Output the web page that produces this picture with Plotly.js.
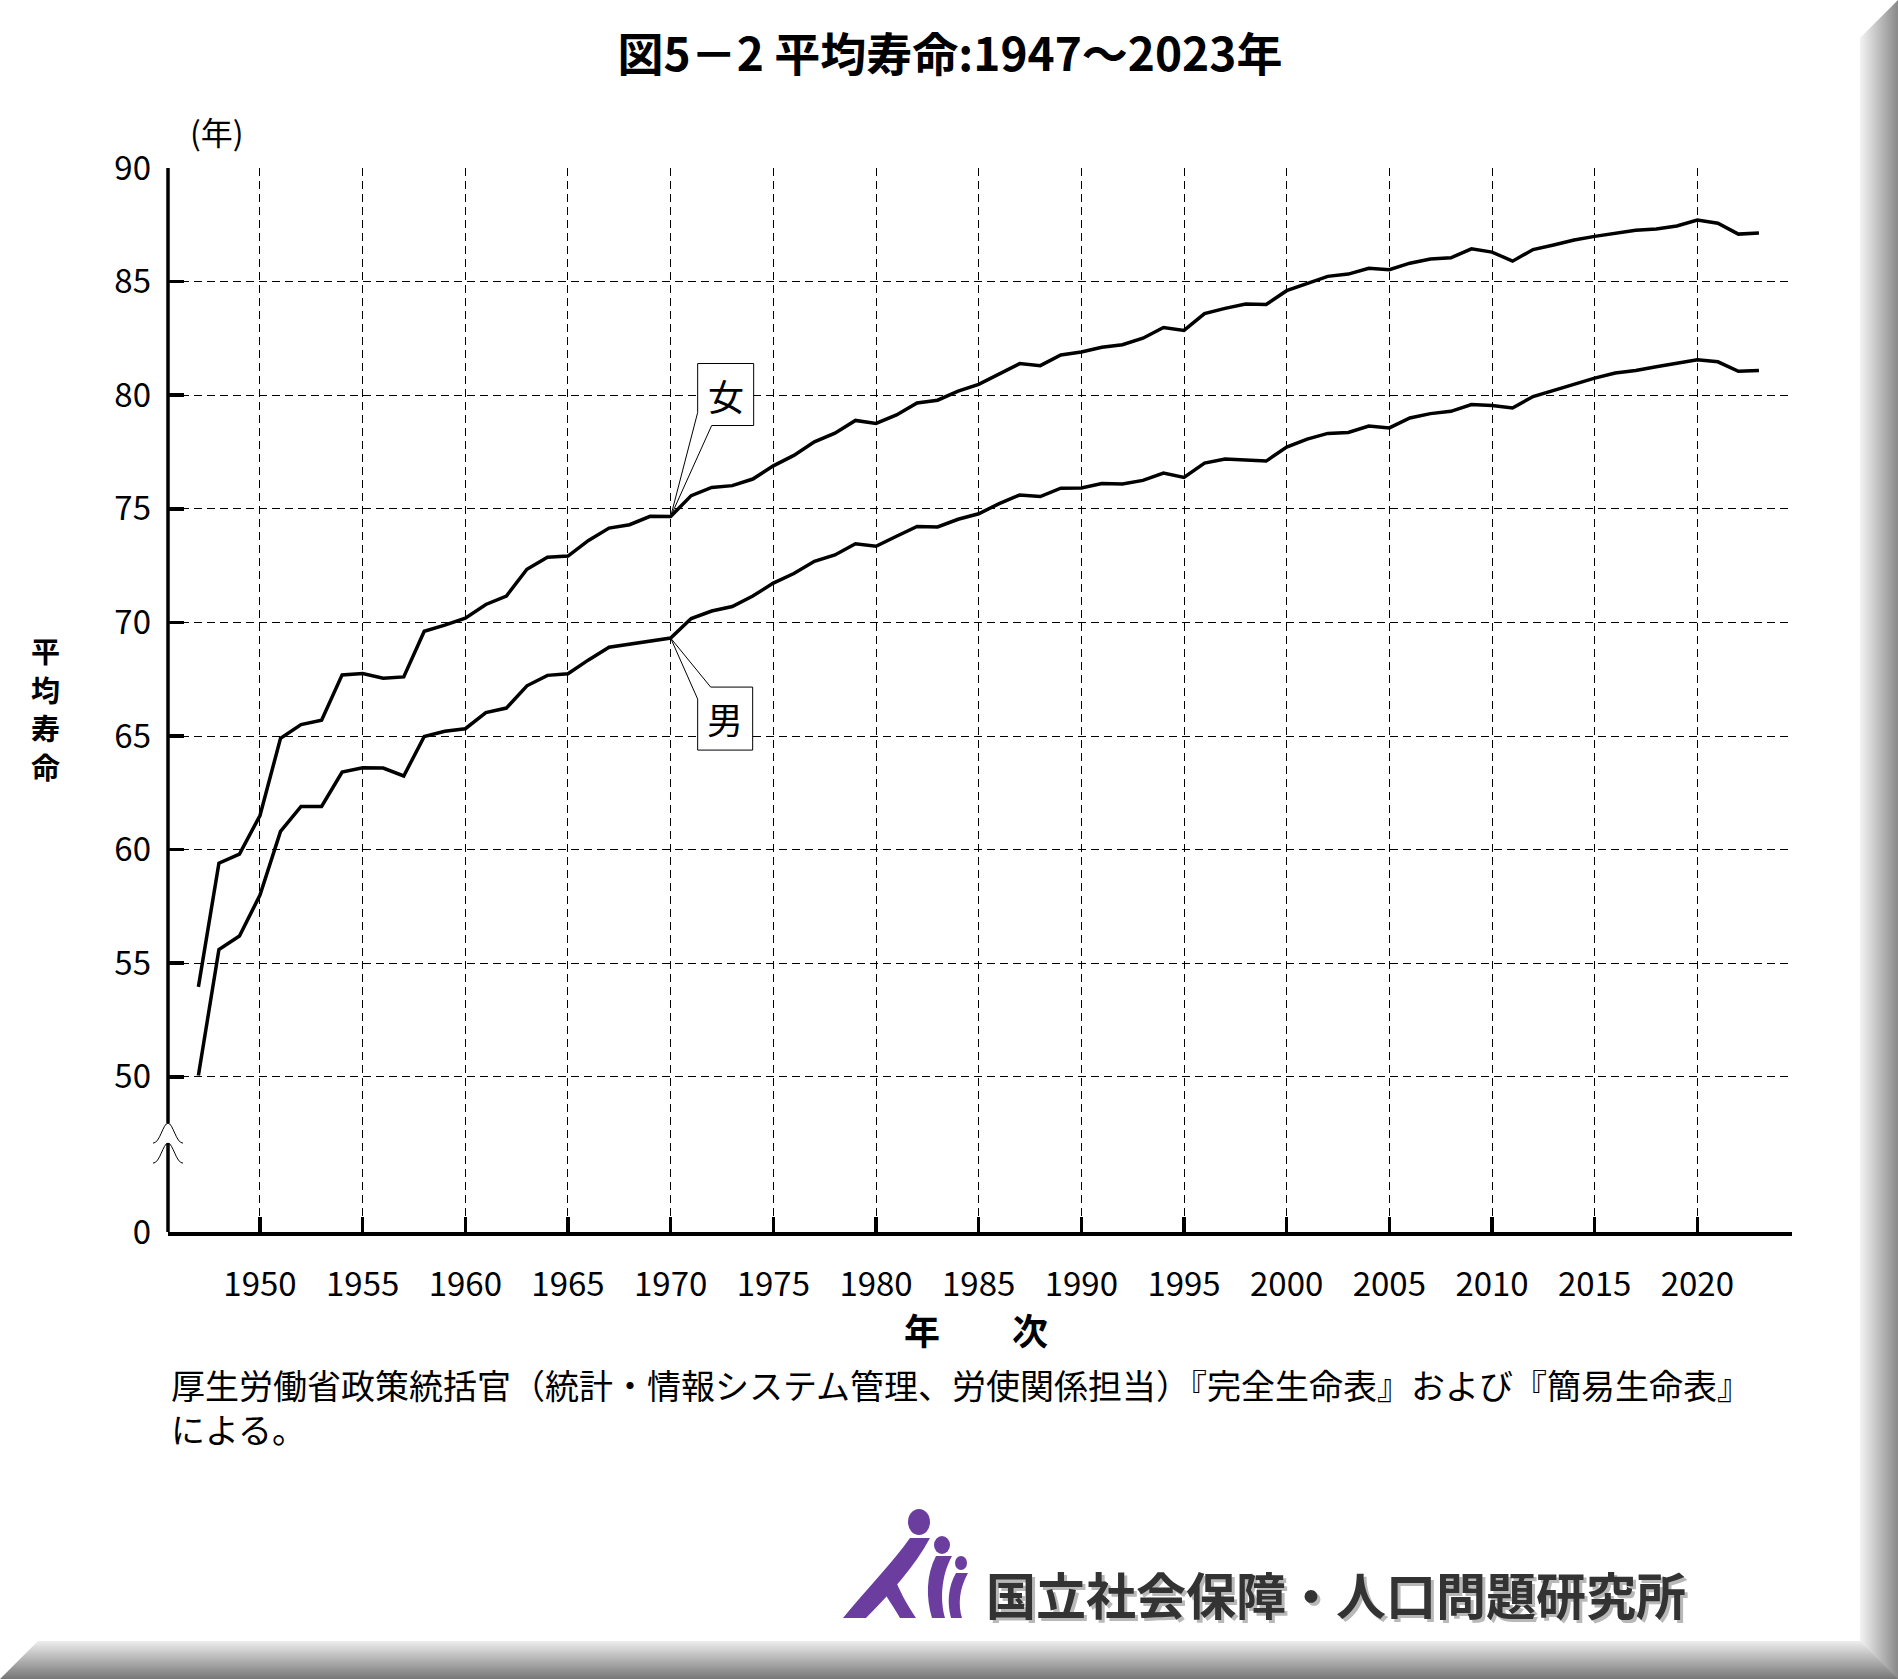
<!DOCTYPE html>
<html lang="ja">
<head>
<meta charset="utf-8">
<title>図5－2 平均寿命:1947～2023年</title>
<script src="https://cdn.plot.ly/plotly-3.0.1.min.js"></script>
<style>
  html, body { margin: 0; padding: 0; background: #fff; }
  body { width: 1898px; height: 1679px; position: relative; overflow: hidden; }
  #chart { position: absolute; left: 0; top: 0; width: 1898px; height: 1679px; z-index: 2; }
  .bevel {
    position: absolute; box-sizing: border-box; border-style: solid; border-width: 1px;
    border-top-color: transparent; border-left-color: transparent; z-index: 1;
  }
</style>
</head>
<body>
<div id="chart"></div>
<script>
/******************** DATA ********************/
const years = [
  1947, 1948, 1949, 1950, 1951, 1952, 1953, 1954, 1955, 1956,
  1957, 1958, 1959, 1960, 1961, 1962, 1963, 1964, 1965, 1966,
  1967, 1968, 1969, 1970, 1971, 1972, 1973, 1974, 1975, 1976,
  1977, 1978, 1979, 1980, 1981, 1982, 1983, 1984, 1985, 1986,
  1987, 1988, 1989, 1990, 1991, 1992, 1993, 1994, 1995, 1996,
  1997, 1998, 1999, 2000, 2001, 2002, 2003, 2004, 2005, 2006,
  2007, 2008, 2009, 2010, 2011, 2012, 2013, 2014, 2015, 2016,
  2017, 2018, 2019, 2020, 2021, 2022, 2023
];

// 男 (male life expectancy at birth)
const male = [
  50.06, 55.60, 56.20, 58.00, 60.80, 61.90, 61.90, 63.41, 63.60, 63.59,
  63.24, 64.98, 65.21, 65.32, 66.03, 66.23, 67.21, 67.67, 67.74, 68.35,
  68.91, 69.05, 69.18, 69.31, 70.17, 70.50, 70.70, 71.16, 71.73, 72.15,
  72.69, 72.97, 73.46, 73.35, 73.79, 74.22, 74.20, 74.54, 74.78, 75.23,
  75.61, 75.54, 75.91, 75.92, 76.11, 76.09, 76.25, 76.57, 76.38, 77.01,
  77.19, 77.16, 77.10, 77.72, 78.07, 78.32, 78.36, 78.64, 78.56, 79.00,
  79.19, 79.29, 79.59, 79.55, 79.44, 79.94, 80.21, 80.50, 80.75, 80.98,
  81.09, 81.25, 81.41, 81.56, 81.47, 81.05, 81.09
];

// 女 (female life expectancy at birth)
const female = [
  53.96, 59.40, 59.80, 61.50, 64.90, 65.50, 65.70, 67.69, 67.75, 67.54,
  67.60, 69.61, 69.88, 70.19, 70.79, 71.16, 72.34, 72.87, 72.92, 73.61,
  74.15, 74.30, 74.67, 74.66, 75.58, 75.94, 76.02, 76.31, 76.89, 77.35,
  77.95, 78.33, 78.89, 78.76, 79.13, 79.66, 79.78, 80.18, 80.48, 80.93,
  81.39, 81.30, 81.77, 81.90, 82.11, 82.22, 82.51, 82.98, 82.85, 83.59,
  83.82, 84.01, 83.99, 84.60, 84.93, 85.23, 85.33, 85.59, 85.52, 85.81,
  85.99, 86.05, 86.44, 86.30, 85.90, 86.41, 86.61, 86.83, 86.99, 87.14,
  87.26, 87.32, 87.45, 87.71, 87.57, 87.09, 87.14
];

const xTickVals = [1950, 1955, 1960, 1965, 1970, 1975, 1980, 1985, 1990, 1995, 2000, 2005, 2010, 2015, 2020];
const yBase = 43.17;               // value sitting on the x axis (the broken axis shows it as 0)
const yTickVals = [yBase, 50, 55, 60, 65, 70, 75, 80, 85, 90];
const yTickText = ['0', '50', '55', '60', '65', '70', '75', '80', '85', '90'];
const yTitleChars = ['平', '均', '寿', '命'];
const labelYear = 1970;            // where the 女 / 男 callouts point

/******************** GEOMETRY HELPERS ********************/
const W = 1898, H = 1679;
const ML = 168, MR = 106, MT = 168, MB = 447;
const PW = W - ML - MR, PH = H - MT - MB;
const sx = px => (px - ML) / PW;          // screen px -> paper x
const sy = py => 1 - (py - MT) / PH;      // screen px -> paper y
const vy = v => (v - yBase) / (90 - yBase); // axis value -> paper y
const FONT = '"Noto Sans CJK JP", "Noto Sans", sans-serif';

// path in screen pixels (y down) for shapes anchored at the page's top-left corner
function sp(...parts) {
  const out = [];
  for (let i = 0; i < parts.length; i++) {
    if (typeof parts[i] === 'string') { out.push(parts[i]); continue; }
    out.push(parts[i] + ',' + (-parts[i + 1]));
    i++;
  }
  return out.join(' ');
}
const screenAnchor = {
  xref: 'paper', yref: 'paper', xsizemode: 'pixel', ysizemode: 'pixel',
  xanchor: sx(0), yanchor: sy(0)
};

/******************** FRAME (bevel) ********************/
for (let i = 0; i < 38; i++) {
  const t = i / 37;
  const r = Math.round(0x8a + (0xf2 - 0x8a) * t);
  const b = Math.round(0x78 + (0xec - 0x78) * t);
  const d = document.createElement('div');
  d.className = 'bevel';
  d.style.left = i + 'px';
  d.style.top = i + 'px';
  d.style.width = (W - 2 * i) + 'px';
  d.style.height = (H - 2 * i) + 'px';
  d.style.borderRightColor = `rgb(${r},${r},${r})`;
  d.style.borderBottomColor = `rgb(${b},${b},${b})`;
  document.body.appendChild(d);
}

/******************** TRACES ********************/
const lineStyle = { color: '#000', width: 3.5 };
const traces = [
  { x: years, y: female, name: '女', mode: 'lines', line: lineStyle, hoverinfo: 'skip' },
  { x: years, y: male, name: '男', mode: 'lines', line: lineStyle, hoverinfo: 'skip' }
];

const iLabel = years.indexOf(labelYear);
const fLabel = female[iLabel];
const mLabel = male[iLabel];

/******************** SHAPES ********************/
const axisLine = { type: 'line', xref: 'paper', yref: 'paper', x0: 0, x1: 0, line: { color: '#000', width: 3.5 } };
const breakTop = 47.96, breakBottom = 47.08;
const arch = 'M -15,-20 C -8,-20 -5,0 0,0 C 5,0 8,-20 15,-20';

const logoPurple = '#6a3d9f';
const shapes = [
  // broken y axis
  { ...axisLine, y0: 0, y1: vy(breakBottom) },
  { ...axisLine, y0: vy(breakTop), y1: 1 },
  { type: 'path', xref: 'paper', yref: 'paper', xsizemode: 'pixel', ysizemode: 'pixel',
    xanchor: 0, yanchor: vy(breakTop), path: arch, line: { color: '#000', width: 1 } },
  { type: 'path', xref: 'paper', yref: 'paper', xsizemode: 'pixel', ysizemode: 'pixel',
    xanchor: 0, yanchor: vy(breakBottom), path: arch, line: { color: '#000', width: 1 } },

  // callout boxes
  { type: 'path', xref: 'x', yref: 'y', xsizemode: 'pixel', ysizemode: 'pixel',
    xanchor: labelYear, yanchor: fLabel,
    path: 'M 0,0 L 27,104 L 27,153 L 83,153 L 83,91 L 41,91 Z',
    fillcolor: '#fff', line: { color: '#000', width: 1 } },
  { type: 'path', xref: 'x', yref: 'y', xsizemode: 'pixel', ysizemode: 'pixel',
    xanchor: labelYear, yanchor: mLabel,
    path: 'M 0,0 L 27,-61 L 27,-112 L 82,-112 L 82,-49 L 40,-49 Z',
    fillcolor: '#fff', line: { color: '#000', width: 1 } },

  // logo figures
  { ...screenAnchor, type: 'path', fillcolor: logoPurple, line: { width: 0 },
    path: sp('M', 843, 1618, 'C', 866, 1590, 893, 1562, 910, 1538, 'L', 930, 1538,
             'C', 915, 1566, 890, 1594, 866, 1618, 'Z') },
  { ...screenAnchor, type: 'path', fillcolor: logoPurple, line: { width: 0 },
    path: sp('M', 880, 1586, 'L', 892, 1572, 'C', 899, 1590, 907, 1605, 916, 1618,
             'L', 900, 1618, 'C', 893, 1606, 886, 1596, 880, 1586, 'Z') },
  { ...screenAnchor, type: 'path', fillcolor: logoPurple, line: { width: 0 },
    path: sp('M', 936, 1556, 'L', 952, 1556, 'C', 941, 1576, 940, 1600, 945, 1618,
             'L', 932, 1618, 'C', 926, 1598, 926, 1575, 936, 1556, 'Z') },
  { ...screenAnchor, type: 'path', fillcolor: logoPurple, line: { width: 0 },
    path: sp('M', 956, 1573, 'L', 968, 1573, 'C', 959, 1589, 958, 1605, 962, 1618,
             'L', 951, 1618, 'C', 947, 1603, 948, 1587, 956, 1573, 'Z') },
  { ...screenAnchor, type: 'circle', fillcolor: logoPurple, line: { width: 0 },
    x0: 908, x1: 930, y0: -1509, y1: -1535 },
  { ...screenAnchor, type: 'circle', fillcolor: logoPurple, line: { width: 0 },
    x0: 934, x1: 950, y0: -1536, y1: -1554 },
  { ...screenAnchor, type: 'circle', fillcolor: logoPurple, line: { width: 0 },
    x0: 955, x1: 967, y0: -1556, y1: -1570 }
];

/******************** ANNOTATIONS ********************/
const ann = (text, x, y, size, extra) => ({
  text, xref: 'paper', yref: 'paper', x: sx(x), y: sy(y), showarrow: false,
  xanchor: 'center', yanchor: 'middle', font: { family: FONT, size, color: '#000' }, ...extra
});

const annotations = [
  ann('(年)', 217, 131, 32),
  // vertical y-axis title, one character per annotation
  ...yTitleChars.map((ch, i) => ann('<b>' + ch + '</b>', 46, 650 + i * 38.5, 29)),
  ann('<b>年　　次</b>', 976, 1329, 36),
  ann('厚生労働省政策統括官（統計・情報システム管理、労使関係担当）『完全生命表』および『簡易生命表』<br>による。',
      169, 1406, 34, { xanchor: 'left', align: 'left' }),
  // logo text with soft shadow
  ann('<b>国立社会保障・人口問題研究所</b>', 1339, 1596, 50, { font: { family: FONT, size: 50, color: '#b8b8b8' } }),
  ann('<b>国立社会保障・人口問題研究所</b>', 1336, 1593, 50, { font: { family: FONT, size: 50, color: '#333' } }),
  // callout labels
  { text: '女', xref: 'x', yref: 'y', x: labelYear, y: fLabel, xshift: 55, yshift: 122,
    showarrow: false, font: { family: FONT, size: 36, color: '#000' } },
  { text: '男', xref: 'x', yref: 'y', x: labelYear, y: mLabel, xshift: 54, yshift: -80,
    showarrow: false, font: { family: FONT, size: 36, color: '#000' } }
];

/******************** LAYOUT ********************/
const gridStyle = { showgrid: true, gridcolor: '#000', gridwidth: 1, griddash: '8px,5px', zeroline: false };
const layout = {
  width: W, height: H,
  margin: { l: ML, r: MR, t: MT, b: MB },
  paper_bgcolor: 'rgba(0,0,0,0)',
  plot_bgcolor: 'rgba(0,0,0,0)',
  showlegend: false,
  title: {
    text: '<b>図5－2 平均寿命:1947～2023年</b>',
    xref: 'container', yref: 'container', x: 950 / W, y: 1 - 55 / H,
    xanchor: 'center', yanchor: 'middle',
    font: { family: FONT, size: 46, color: '#000' }
  },
  xaxis: {
    ...gridStyle,
    range: [1945.52, 2024.61],
    tickvals: xTickVals,
    ticks: 'inside', ticklen: 15, tickwidth: 3.5, tickcolor: '#000',
    showline: true, linecolor: '#000', linewidth: 3.5,
    tickfont: { family: FONT, size: 33, color: '#000' },
    ticklabelstandoff: 21,
    fixedrange: true
  },
  yaxis: {
    ...gridStyle,
    range: [yBase, 90],
    tickvals: yTickVals,
    ticktext: yTickText,
    ticks: 'inside', ticklen: 16, tickwidth: 3.5, tickcolor: '#000',
    showline: false,
    tickfont: { family: FONT, size: 33, color: '#000' },
    ticklabelstandoff: 16,
    fixedrange: true
  },
  shapes,
  annotations
};

Plotly.newPlot('chart', traces, layout, { displayModeBar: false, staticPlot: true });
</script>
</body>
</html>
